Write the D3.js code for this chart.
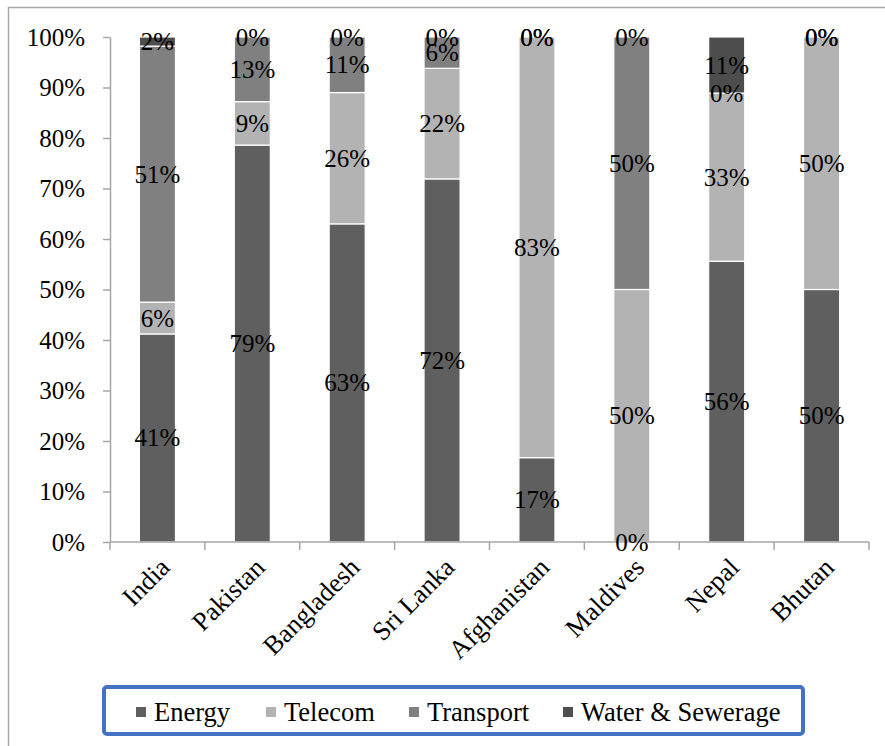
<!DOCTYPE html>
<html>
<head>
<meta charset="utf-8">
<script src="https://cdn.jsdelivr.net/npm/d3@7"></script>
<style>
  html, body { margin: 0; padding: 0; background: #fff; }
  svg { display: block; }
  text { font-family: "Times New Roman", "Liberation Serif", serif; fill: #000; }
</style>
</head>
<body>
<svg id="chart" width="885" height="746"></svg>
<script>
// Share of infrastructure projects by sector (percent of each country's total)
const countries = ["India", "Pakistan", "Bangladesh", "Sri Lanka", "Afghanistan", "Maldives", "Nepal", "Bhutan"];
const sectors = ["Energy", "Telecom", "Transport", "Water & Sewerage"];
const energy    = [41.2, 78.6, 63.0, 71.9, 16.7,  0.0, 55.6, 50.0];
const telecom   = [ 6.3,  8.6, 26.0, 21.9, 83.3, 50.0, 33.3, 50.0];
const transport = [50.7, 12.8, 11.0,  6.2,  0.0, 50.0,  0.0,  0.0];
const water     = [ 1.8,  0.0,  0.0,  0.0,  0.0,  0.0, 11.1,  0.0];
const yTicks = [0, 10, 20, 30, 40, 50, 60, 70, 80, 90, 100];

const colors = ["#5f5f5f", "#b3b3b3", "#808080", "#4d4d4d"];

const rows = countries.map((c, i) => ({
  country: c,
  "Energy": energy[i],
  "Telecom": telecom[i],
  "Transport": transport[i],
  "Water & Sewerage": water[i]
}));

const svg = d3.select("#chart");

// outer chart frame
svg.append("rect")
  .attr("x", 8.5).attr("y", 7.5)
  .attr("width", 1000).attr("height", 1000)
  .attr("fill", "none").attr("stroke", "#a6a6a6").attr("stroke-width", 1.5);

const plotLeft = 110, plotRight = 869, plotTop = 37, plotBottom = 542;
const pad = 0.62;

const x = d3.scaleBand().domain(countries).range([plotLeft, plotRight])
  .paddingInner(pad).paddingOuter(pad / 2);
const y = d3.scaleLinear().domain([0, 100]).range([plotBottom, plotTop]);
const color = d3.scaleOrdinal().domain(sectors).range(colors);

const stack = d3.stack().keys(sectors);
const series = stack(rows);

// bars
const g = svg.append("g");
g.selectAll("g.series")
  .data(series)
  .join("g")
  .attr("class", "series")
  .attr("fill", d => color(d.key))
  .selectAll("rect")
  .data(d => d)
  .join("rect")
  .attr("x", d => x(d.data.country))
  .attr("width", x.bandwidth())
  .attr("y", d => y(d[1]))
  .attr("height", d => y(d[0]) - y(d[1]))
  .attr("stroke", "#fff")
  .attr("stroke-width", 1.2);

// y axis
const yAxis = svg.append("g")
  .attr("transform", `translate(${plotLeft},0)`)
  .call(d3.axisLeft(y).tickValues(yTicks).tickFormat(d => d + "%")
    .tickSize(7).tickPadding(18).tickSizeOuter(0));
yAxis.select(".domain").attr("stroke", "#a6a6a6").attr("stroke-width", 1.5);
yAxis.selectAll(".tick line").attr("stroke", "#a6a6a6").attr("stroke-width", 1.5);
yAxis.selectAll(".tick text").style("font-size", "25px").attr("fill", "#000");

// x axis: baseline and boundary ticks
const xg = svg.append("g");
xg.append("line")
  .attr("x1", plotLeft).attr("x2", plotRight)
  .attr("y1", plotBottom).attr("y2", plotBottom)
  .attr("stroke", "#a6a6a6").attr("stroke-width", 1.5);
const bounds = countries.map(c => x(c) - x.step() * pad / 2)
  .concat([x(countries[countries.length - 1]) + x.bandwidth() + x.step() * pad / 2]);
xg.selectAll("line.tk")
  .data(bounds)
  .join("line")
  .attr("class", "tk")
  .attr("x1", d => d).attr("x2", d => d)
  .attr("y1", plotBottom).attr("y2", plotBottom + 8)
  .attr("stroke", "#a6a6a6").attr("stroke-width", 1.5);

xg.selectAll("text.cat")
  .data(countries)
  .join("text")
  .attr("class", "cat")
  .attr("text-anchor", "end")
  .style("font-size", "26.5px")
  .attr("transform", d => `translate(${x(d) + x.bandwidth() / 2 + 14},${plotBottom + 27}) rotate(-45)`)
  .text(d => d);

// segment value labels
const labels = [];
series.forEach(s => s.forEach(d => {
  labels.push({ v: d.data[s.key], mid: (d[0] + d[1]) / 2, country: d.data.country });
}));
svg.append("g").selectAll("text")
  .data(labels)
  .join("text")
  .attr("x", d => x(d.country) + x.bandwidth() / 2)
  .attr("y", d => y(d.mid))
  .attr("text-anchor", "middle")
  .attr("dominant-baseline", "central")
  .style("font-size", "25px")
  .text(d => Math.round(d.v) + "%");

// legend
const lg = svg.append("g");
lg.append("rect")
  .attr("x", 104).attr("y", 687)
  .attr("width", 699).attr("height", 47)
  .attr("rx", 3)
  .attr("fill", "#fff").attr("stroke", "#4472c4").attr("stroke-width", 4);
const legendX = [136, 266, 409, 563];
const items = lg.selectAll("g.item")
  .data(sectors)
  .join("g")
  .attr("class", "item")
  .attr("transform", (d, i) => `translate(${legendX[i]},712)`);
items.append("rect")
  .attr("x", 0).attr("y", -5)
  .attr("width", 10).attr("height", 10)
  .attr("fill", d => color(d));
items.append("text")
  .attr("x", 18)
  .attr("dominant-baseline", "central")
  .style("font-size", "26.5px")
  .text(d => d);
</script>
</body>
</html>
